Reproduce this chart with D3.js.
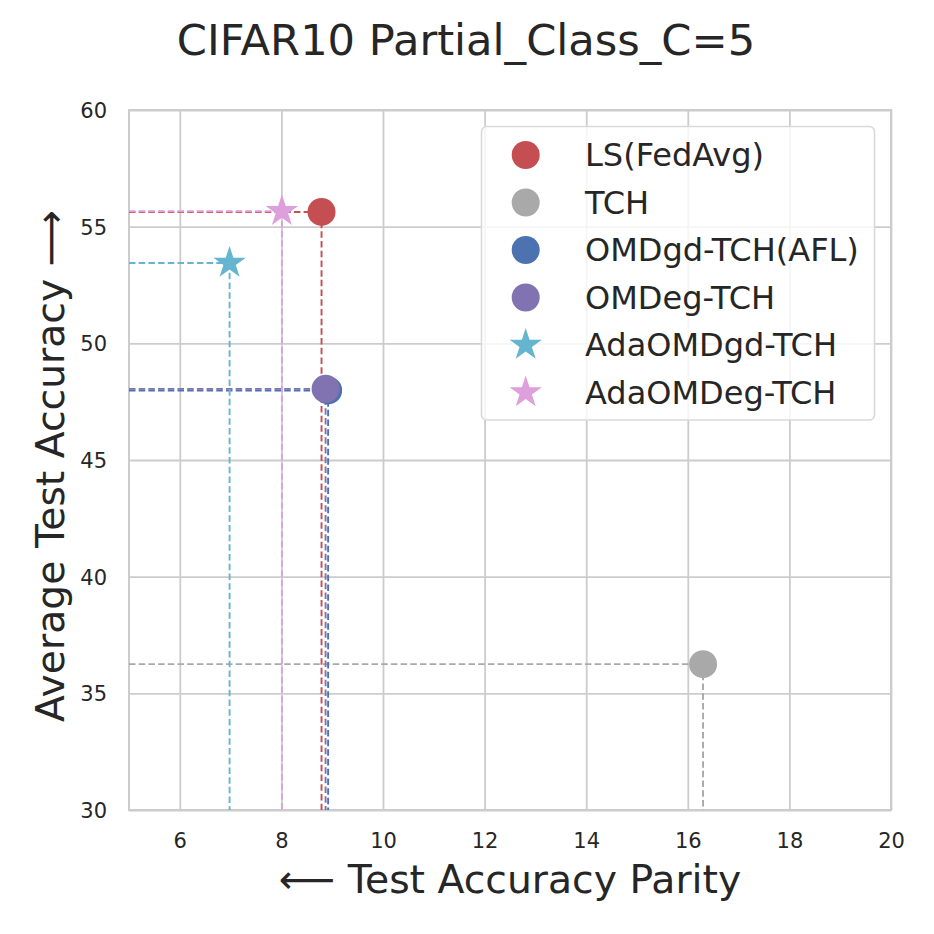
<!DOCTYPE html>
<html>
<head>
<meta charset="utf-8">
<script src="https://cdn.jsdelivr.net/npm/d3@7"></script>
<style>
  html, body { margin: 0; padding: 0; background: #ffffff; }
  svg { display: block; font-family: "DejaVu Sans", sans-serif; }
</style>
</head>
<body>
<svg id="chart" width="934" height="934"></svg>
<script>
// ---- data ----
const methods = ["LS(FedAvg)", "TCH", "OMDgd-TCH(AFL)", "OMDeg-TCH", "AdaOMDgd-TCH", "AdaOMDeg-TCH"];
const parity = [8.79, 16.30, 8.92, 8.87, 6.98, 8.01];
const accuracy = [55.63, 36.25, 47.98, 48.05, 53.44, 55.66];
const markers = ["circle", "circle", "circle", "circle", "star", "star"];
const colors = ["#C44E52", "#A9A9A9", "#4C72B0", "#8172B2", "#64B5CD", "#DDA0DD"];
const xTicks = [6, 8, 10, 12, 14, 16, 18, 20];
const yTicks = [30, 35, 40, 45, 50, 55, 60];
const xDomain = [5, 20];
const yDomain = [30, 60];
const titleText = "CIFAR10 Partial_Class_C=5";
const xLabelText = "\u27F5 Test Accuracy Parity";
const yLabelText = "Average Test Accuracy \u27F6";

// ---- layout ----
const margin = { left: 129, top: 110, right: 43, bottom: 124 };
const W = 934, H = 934;
const pw = W - margin.left - margin.right;
const ph = H - margin.top - margin.bottom;
const gridColor = "#cccccc";
const textColor = "#262626";

const svg = d3.select("#chart");
const x = d3.scaleLinear().domain(xDomain).range([0, pw]);
const y = d3.scaleLinear().domain(yDomain).range([ph, 0]);

const g = svg.append("g").attr("transform", `translate(${margin.left},${margin.top})`);

// grid + axes
const xAxis = d3.axisBottom(x).tickValues(xTicks).tickSizeInner(-ph).tickSizeOuter(0).tickPadding(0);
const yAxis = d3.axisLeft(y).tickValues(yTicks).tickSizeInner(-pw).tickSizeOuter(0).tickPadding(0);

const gx = g.append("g").attr("transform", `translate(0,${ph})`).call(xAxis);
const gy = g.append("g").call(yAxis);
[gx, gy].forEach(a => {
  a.select(".domain").remove();
  a.selectAll(".tick line").attr("stroke", gridColor).attr("stroke-width", 1.8);
  a.selectAll(".tick text").attr("fill", textColor).attr("font-size", 21)
    .attr("font-family", "DejaVu Sans, sans-serif");
});
gx.selectAll(".tick text").attr("y", 38.3).attr("dy", null);
gy.selectAll(".tick text").attr("x", -22).attr("dy", null).attr("y", 7.5);

// spines
g.append("rect").attr("x", 0).attr("y", 0).attr("width", pw).attr("height", ph)
  .attr("fill", "none").attr("stroke", gridColor).attr("stroke-width", 2);

// data rows
const rows = methods.map((m, i) => ({ name: m, px: parity[i], acc: accuracy[i], marker: markers[i], color: colors[i] }));

// dashed guide lines
const lines = g.append("g");
rows.forEach(d => {
  lines.append("line")
    .attr("x1", x(xDomain[0])).attr("x2", x(d.px))
    .attr("y1", y(d.acc)).attr("y2", y(d.acc))
    .attr("stroke", d.color).attr("stroke-width", 1.9).attr("stroke-dasharray", "6.5,3.2");
  lines.append("line")
    .attr("x1", x(d.px)).attr("x2", x(d.px))
    .attr("y1", y(d.acc)).attr("y2", y(yDomain[0]))
    .attr("stroke", d.color).attr("stroke-width", 1.9).attr("stroke-dasharray", "6.5,3.2");
});

// markers
const starSize = 17 * 17 / 0.8908130915292852;
function drawMarker(sel, d, cx, cy) {
  if (d.marker === "circle") {
    sel.append("circle").attr("cx", cx).attr("cy", cy).attr("r", 14).attr("fill", d.color);
  } else {
    sel.append("path").attr("d", d3.symbol().type(d3.symbolStar).size(starSize)())
      .attr("transform", `translate(${cx},${cy})`).attr("fill", d.color);
  }
}
const pts = g.append("g");
rows.forEach(d => drawMarker(pts, d, x(d.px), y(d.acc)));

// legend
const lg = svg.append("g");
lg.append("rect").attr("x", 481.5).attr("y", 126.5).attr("width", 393).attr("height", 293.5)
  .attr("rx", 5).attr("fill", "#ffffff").attr("fill-opacity", 0.8)
  .attr("stroke", "#d9d9d9").attr("stroke-width", 1.6);
rows.forEach((d, i) => {
  const cy = 155 + i * 47.5;
  drawMarker(lg, d, 525.7, cy);
  lg.append("text").attr("x", 585).attr("y", cy + 11).attr("font-size", 32)
    .attr("fill", textColor).text(d.name);
});

// title & labels
svg.append("text").attr("x", 466).attr("y", 55).attr("text-anchor", "middle")
  .attr("font-size", 43.2).attr("fill", textColor).text(titleText);
svg.append("text").attr("x", margin.left + pw / 2).attr("y", 892.5).attr("text-anchor", "middle")
  .attr("font-size", 39.3).attr("fill", textColor).text(xLabelText);
svg.append("text").attr("transform", `translate(64,${margin.top + ph / 2 + 6}) rotate(-90)`)
  .attr("text-anchor", "middle").attr("font-size", 39.3).attr("fill", textColor).text(yLabelText);
</script>
</body>
</html>
